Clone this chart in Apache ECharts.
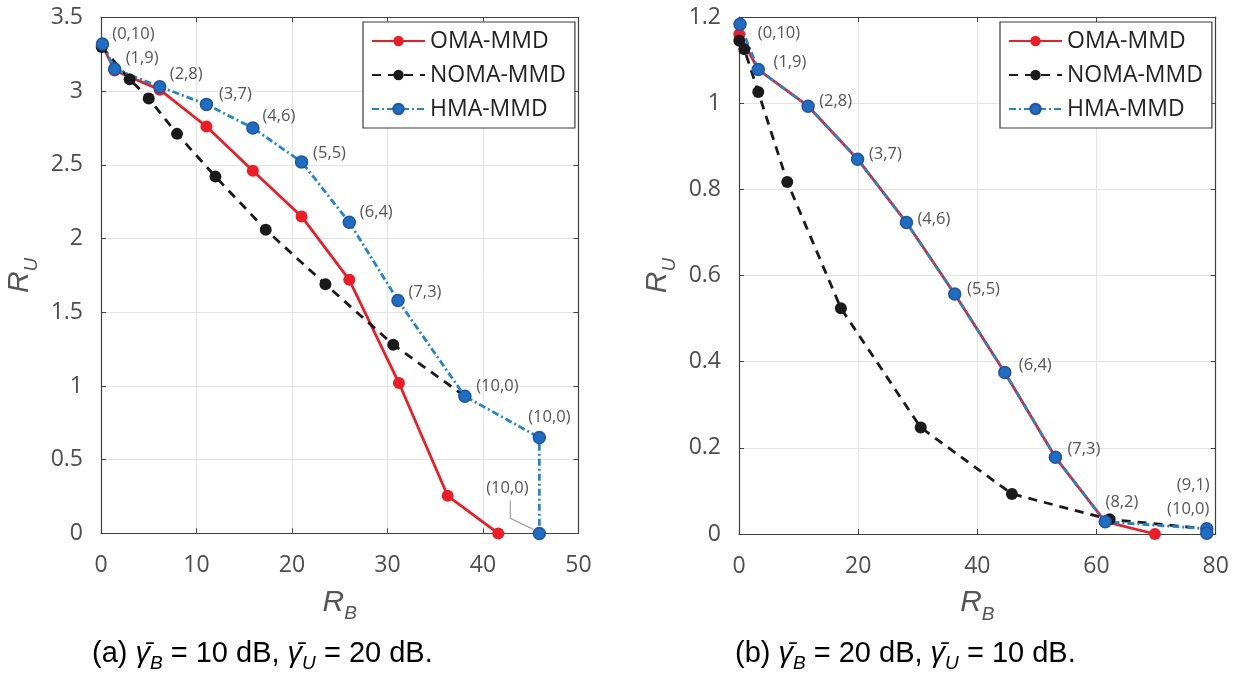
<!DOCTYPE html>
<html>
<head>
<meta charset="utf-8">
<script src="https://cdn.jsdelivr.net/npm/echarts@6/dist/echarts.min.js"></script>
<style>
  html, body { margin: 0; padding: 0; background: #fff; }
  #chart { width: 1245px; height: 673px; }
</style>
</head>
<body>
<div id="chart"></div>
<script>
// ---- Panel (a): gamma_B = 10 dB, gamma_U = 20 dB ----
const RB_A_OMA  = [0.15, 1.43, 6.15, 11.04, 15.9, 21.0, 26.0, 31.2, 36.3, 41.6];
const RU_A_OMA  = [3.31, 3.14, 3.01, 2.76, 2.46, 2.15, 1.72, 1.02, 0.255, 0];
const RB_A_NOMA = [0.07, 3.0, 5.0, 7.96, 11.98, 17.25, 23.5, 30.6, 38.1];
const RU_A_NOMA = [3.30, 3.08, 2.95, 2.71, 2.42, 2.06, 1.69, 1.28, 0.93];
const RB_A_HMA  = [0.15, 1.43, 6.15, 11.04, 15.9, 21.0, 26.0, 31.1, 38.1, 45.9, 45.9];
const RU_A_HMA  = [3.32, 3.15, 3.03, 2.91, 2.75, 2.52, 2.11, 1.58, 0.93, 0.65, 0];
const PAIRS_A   = ['(0,10)', '(1,9)', '(2,8)', '(3,7)', '(4,6)', '(5,5)', '(6,4)', '(7,3)', '(10,0)', '(10,0)', '(10,0)'];

// ---- Panel (b): gamma_B = 20 dB, gamma_U = 10 dB ----
const RB_B_OMA  = [0.05, 3.23, 11.6, 19.9, 28.1, 36.2, 44.6, 53.1, 61.45, 69.8];
const RU_B_OMA  = [1.16, 1.078, 0.993, 0.870, 0.723, 0.557, 0.375, 0.178, 0.0285, 0];
const RB_B_NOMA = [0.05, 0.9, 3.23, 8.1, 17.1, 30.5, 45.8, 62.2, 78.5];
const RU_B_NOMA = [1.145, 1.125, 1.026, 0.817, 0.524, 0.247, 0.093, 0.034, 0.012];
const RB_B_HMA  = [0.17, 3.23, 11.6, 19.9, 28.1, 36.2, 44.6, 53.1, 61.45, 78.5, 78.5];
const RU_B_HMA  = [1.183, 1.078, 0.993, 0.870, 0.723, 0.557, 0.375, 0.178, 0.0285, 0.0123, 0.002];
const PAIRS_B   = ['(0,10)', '(1,9)', '(2,8)', '(3,7)', '(4,6)', '(5,5)', '(6,4)', '(7,3)', '(8,2)', '(9,1)', '(10,0)'];

// Axis ranges and tick steps
const X_AXIS_A = { min: 0, max: 50, interval: 10 };
const Y_AXIS_A = { min: 0, max: 3.5, interval: 0.5 };
const X_AXIS_B = { min: 0, max: 80, interval: 20 };
const Y_AXIS_B = { min: 0, max: 1.2, interval: 0.2 };

const SERIES_NAMES = ['OMA-MMD', 'NOMA-MMD', 'HMA-MMD'];
const CAPTION_A = ['(a) ', 'B', ' = 10 dB, ', 'U', ' = 20 dB.'];
const CAPTION_B = ['(b) ', 'B', ' = 20 dB, ', 'U', ' = 10 dB.'];

// Label placement (pixel offsets of each pair label from its marker centre)
const LABEL_SHIFT_A = [[31, -10], [27.5, -11], [26.5, -12], [29, -10], [26, -12], [28, -9],
                       [27, -10], [27, -8], [32.5, -10], [10, -20], [-32, -45]];
const LABEL_SHIFT_B = [[39, 8.5], [31.7, -7], [27.5, -5], [27.8, -5], [27.5, -3.3], [28.8, -5],
                       [30.5, -6.8], [28.5, -7.6], [16.8, -19.2], [-13.5, -43.2], [-18.5, -24.3]];

const AXIS_COLOR = '#404040';
const TICK_COLOR = '#4d4d4d';
const GRID_COLOR = '#e4e4e4';
const TICK_FONT = 'Open Sans';

function pts(xs, ys) { return xs.map((x, i) => [x, ys[i]]); }

function labelled(xs, ys, texts, shifts) {
  return xs.map((x, i) => ({
    value: [x, ys[i]],
    label: {
      show: true, position: 'inside', offset: shifts[i], formatter: texts[i],
      color: '#555', fontSize: 16.5, fontFamily: TICK_FONT
    }
  }));
}

const STYLE = {
  oma:  { color: '#ee1c25', line: { color: '#ee1c25', width: 2.8, type: 'solid' },
          item: { color: '#ee1c25' } },
  noma: { color: '#1a1a1a', line: { color: '#1a1a1a', width: 2.8, type: [9, 7] },
          item: { color: '#1a1a1a' } },
  hma:  { color: '#1f86d2', line: { color: '#1f86d2', width: 2.8, type: [7, 3, 2, 3] },
          item: { color: '#1b6ec2', borderColor: '#2453a6', borderWidth: 1.5 } }
};

function mkSeries(name, st, data, axisIdx) {
  return {
    name, type: 'line', data, xAxisIndex: axisIdx, yAxisIndex: axisIdx,
    symbol: 'circle', symbolSize: 12, showSymbol: true,
    lineStyle: st.line, itemStyle: st.item, color: st.color,
    emphasis: { disabled: true }, z: 3
  };
}

function axisNameStyle() {
  return {
    rich: {
      r: { fontFamily: 'Liberation Sans', fontStyle: 'italic', fontSize: 30, color: '#555',
           lineHeight: 30, verticalAlign: 'bottom', padding: [0, 0, 6, 0] },
      s: { fontFamily: 'Liberation Sans', fontStyle: 'italic', fontSize: 19, color: '#555',
           lineHeight: 20, verticalAlign: 'bottom' }
    }
  };
}
function bottomAxis(r, gridIndex, withName) {
  return {
    type: 'value', gridIndex, position: 'bottom', min: r.min, max: r.max, interval: r.interval,
    axisLine: { show: true, onZero: false, lineStyle: { color: AXIS_COLOR, width: 1.2 } },
    axisTick: { show: true, inside: true, length: 5, lineStyle: { color: AXIS_COLOR } },
    axisLabel: { color: TICK_COLOR, fontSize: 23, fontFamily: TICK_FONT, margin: 21 },
    splitLine: { show: true, lineStyle: { color: GRID_COLOR, width: 1 } },
    name: withName, nameLocation: 'middle', nameGap: 60,
    nameTextStyle: axisNameStyle()
  };
}
function topAxis(r, gridIndex) {
  return {
    type: 'value', gridIndex, position: 'top', min: r.min, max: r.max, interval: r.interval,
    axisLine: { show: true, onZero: false, lineStyle: { color: AXIS_COLOR, width: 1.2 } },
    axisTick: { show: true, inside: true, length: 5, lineStyle: { color: AXIS_COLOR } },
    axisLabel: { show: false }, splitLine: { show: false }
  };
}
function leftAxis(r, gridIndex, withName) {
  return {
    type: 'value', gridIndex, position: 'left', min: r.min, max: r.max, interval: r.interval,
    axisLine: { show: true, onZero: false, lineStyle: { color: AXIS_COLOR, width: 1.2 } },
    axisTick: { show: true, inside: true, length: 5, lineStyle: { color: AXIS_COLOR } },
    axisLabel: { color: TICK_COLOR, fontSize: 23, fontFamily: TICK_FONT, margin: 18 },
    splitLine: { show: true, lineStyle: { color: GRID_COLOR, width: 1 } },
    name: withName, nameLocation: 'middle', nameGap: 60, nameRotate: 90,
    nameTextStyle: axisNameStyle()
  };
}
function rightAxis(r, gridIndex) {
  return {
    type: 'value', gridIndex, position: 'right', min: r.min, max: r.max, interval: r.interval,
    axisLine: { show: true, onZero: false, lineStyle: { color: AXIS_COLOR, width: 1.2 } },
    axisTick: { show: true, inside: true, length: 5, lineStyle: { color: AXIS_COLOR } },
    axisLabel: { show: false }, splitLine: { show: false }
  };
}
function legendBox(left) {
  return {
    left, top: 22, orient: 'vertical',
    data: SERIES_NAMES,
    backgroundColor: '#fff', borderColor: '#3a3a3a', borderWidth: 1.2,
    padding: [7, 9, 7, 8], itemGap: 10, itemWidth: 53, itemHeight: 13,
    textStyle: { fontFamily: TICK_FONT, fontSize: 23, color: '#222', lineHeight: 24 },
    selectedMode: false
  };
}

const AXIS_NAME_U = '{r|R}{s|U}';
const AXIS_NAME_B = '{r|R}{s|B}';

const option = {
  animation: false,
  backgroundColor: '#fff',
  grid: [
    { left: 101, top: 17.4, width: 477.5, height: 516 },
    { left: 739, top: 17, width: 476.7, height: 517 }
  ],
  xAxis: [
    bottomAxis(X_AXIS_A, 0, AXIS_NAME_B), topAxis(X_AXIS_A, 0),
    bottomAxis(X_AXIS_B, 1, AXIS_NAME_B), topAxis(X_AXIS_B, 1)
  ],
  yAxis: [
    leftAxis(Y_AXIS_A, 0, AXIS_NAME_U), rightAxis(Y_AXIS_A, 0),
    leftAxis(Y_AXIS_B, 1, AXIS_NAME_U), rightAxis(Y_AXIS_B, 1)
  ],
  legend: [legendBox(363), legendBox(1000)],
  series: [
    mkSeries(SERIES_NAMES[0], STYLE.oma, pts(RB_A_OMA, RU_A_OMA), 0),
    mkSeries(SERIES_NAMES[1], STYLE.noma, pts(RB_A_NOMA, RU_A_NOMA), 0),
    mkSeries(SERIES_NAMES[2], STYLE.hma, labelled(RB_A_HMA, RU_A_HMA, PAIRS_A, LABEL_SHIFT_A), 0),
    mkSeries(SERIES_NAMES[0], STYLE.oma, pts(RB_B_OMA, RU_B_OMA), 2),
    mkSeries(SERIES_NAMES[1], STYLE.noma, pts(RB_B_NOMA, RU_B_NOMA), 2),
    mkSeries(SERIES_NAMES[2], STYLE.hma, labelled(RB_B_HMA, RU_B_HMA, PAIRS_B, LABEL_SHIFT_B), 2)
  ]
};

const chart = echarts.init(document.getElementById('chart'), null, { renderer: 'canvas' });
chart.setOption(option);

// captions under each panel
function caption(parts, left) {
  const txt = '{t|' + parts[0] + '}{g|\u03B3\u0304}{s|' + parts[1] + '}{t|' + parts[2] +
              '}{g|\u03B3\u0304}{s|' + parts[3] + '}{t|' + parts[4] + '}';
  const base = { fontFamily: 'Liberation Sans', fontSize: 29, fill: '#000', lineHeight: 32,
                 verticalAlign: 'bottom', padding: [0, 0, 5, 0] };
  return {
    type: 'text', left, top: 639,
    style: {
      text: txt,
      rich: {
        t: base,
        g: Object.assign({}, base, { fontStyle: 'italic' }),
        s: { fontFamily: 'Liberation Sans', fontStyle: 'italic', fontSize: 19, fill: '#000',
             lineHeight: 22, verticalAlign: 'bottom' }
      }
    }
  };
}

// leader line from the last (10,0) label of panel (a) to its marker
const anchor = chart.convertToPixel({ xAxisIndex: 0, yAxisIndex: 0 },
  [RB_A_HMA[RB_A_HMA.length - 1], RU_A_HMA[RU_A_HMA.length - 1]]);

chart.setOption({
  graphic: [
    {
      type: 'polyline', z: 2,
      shape: { points: [[anchor[0] - 6, anchor[1] - 4], [anchor[0] - 29, anchor[1] - 15], [anchor[0] - 29, anchor[1] - 33]] },
      style: { stroke: '#a0a0a0', lineWidth: 1.2, fill: null }
    },
    caption(CAPTION_A, 92),
    caption(CAPTION_B, 735)
  ]
});
</script>
</body>
</html>
